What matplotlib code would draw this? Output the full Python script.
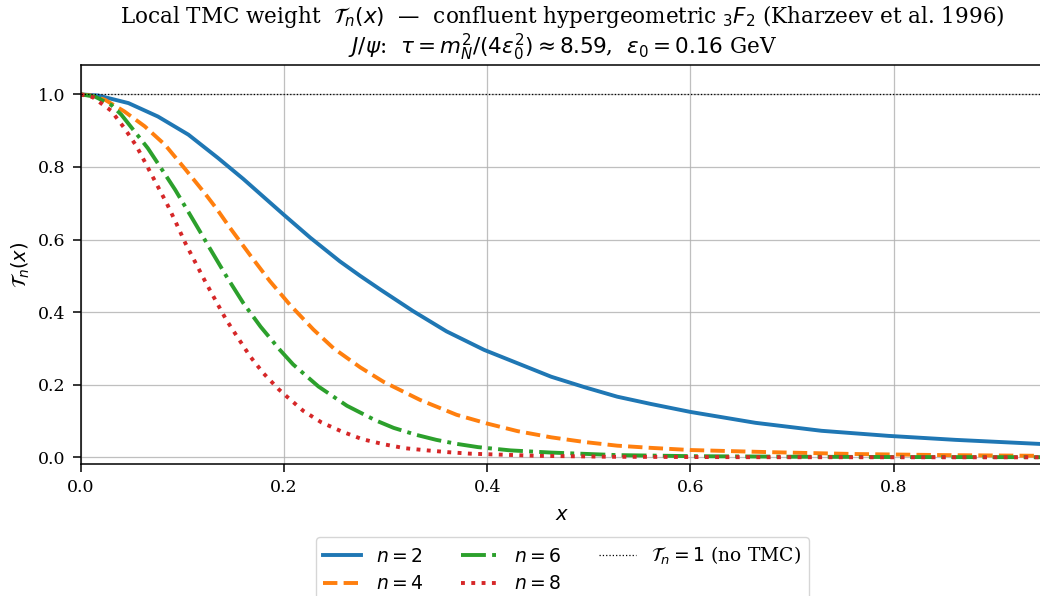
import matplotlib
matplotlib.use("Agg")
import matplotlib.pyplot as plt

plt.rcParams['font.family'] = ['DejaVu Serif']
plt.rcParams['mathtext.fontset'] = 'dejavusans'

# n = 2
x_n2 = [0.0, 0.017, 0.047, 0.076, 0.106, 0.135, 0.160, 0.181, 0.200, 0.226, 0.255, 0.275, 0.295,
        0.327, 0.360, 0.397, 0.430, 0.463, 0.496, 0.528, 0.561, 0.600, 0.664, 0.729, 0.795, 0.861,
        0.950]
y_n2 = [1.0, 0.997, 0.976, 0.939, 0.889, 0.825, 0.767, 0.715, 0.668, 0.605, 0.540, 0.500, 0.462,
        0.403, 0.347, 0.296, 0.259, 0.222, 0.193, 0.167, 0.147, 0.125, 0.095, 0.073, 0.059, 0.048,
        0.036]
# n = 4
x_n4 = [0.0, 0.010, 0.024, 0.043, 0.063, 0.083, 0.102, 0.122, 0.134, 0.147, 0.167, 0.186, 0.206,
        0.229, 0.249, 0.275, 0.298, 0.334, 0.370, 0.400, 0.430, 0.463, 0.496, 0.528, 0.561, 0.600,
        0.680, 0.762, 0.850, 0.950]
y_n4 = [1.0, 0.997, 0.985, 0.953, 0.912, 0.861, 0.797, 0.728, 0.684, 0.632, 0.556, 0.486, 0.420,
        0.352, 0.300, 0.248, 0.208, 0.158, 0.117, 0.093, 0.072, 0.055, 0.042, 0.032, 0.026, 0.020,
        0.014, 0.009, 0.006, 0.004]
# n = 6
x_n6 = [0.0, 0.014, 0.030, 0.040, 0.053, 0.066, 0.079, 0.093, 0.106, 0.117, 0.127, 0.144, 0.160,
        0.177, 0.196, 0.209, 0.234, 0.262, 0.290, 0.308, 0.330, 0.350, 0.370, 0.391, 0.423, 0.463,
        0.528, 0.604, 0.700, 0.800, 0.950]
y_n6 = [1.0, 0.994, 0.971, 0.944, 0.898, 0.852, 0.797, 0.737, 0.676, 0.624, 0.576, 0.496, 0.425,
        0.360, 0.296, 0.256, 0.195, 0.142, 0.102, 0.081, 0.062, 0.048, 0.037, 0.028, 0.019, 0.013,
        0.006, 0.003, 0.0015, 0.0007, 0.0003]
# n = 8
x_n8 = [0.0, 0.012, 0.030, 0.043, 0.055, 0.065, 0.075, 0.085, 0.094, 0.103, 0.113, 0.123, 0.133,
        0.143, 0.155, 0.167, 0.180, 0.195, 0.203, 0.219, 0.237, 0.257, 0.277, 0.298, 0.319, 0.341,
        0.362, 0.383, 0.405, 0.450, 0.520, 0.650, 0.800, 0.950]
y_n8 = [1.0, 0.992, 0.955, 0.907, 0.857, 0.804, 0.751, 0.698, 0.645, 0.590, 0.536, 0.482, 0.431,
        0.380, 0.328, 0.277, 0.231, 0.187, 0.167, 0.128, 0.096, 0.071, 0.050, 0.036, 0.025, 0.019,
        0.014, 0.010, 0.008, 0.004, 0.0015, 0.0003, 0.0, 0.0]

series = [
    (x_n2, y_n2, r'$n=2$', '#1f77b4', '-'),
    (x_n4, y_n4, r'$n=4$', '#ff7f0e', '--'),
    (x_n6, y_n6, r'$n=6$', '#2ca02c', '-.'),
    (x_n8, y_n8, r'$n=8$', '#d62728', ':'),
]

fig = plt.figure(figsize=(10.4, 5.96), dpi=100)
W, H = 1040, 596
ax = fig.add_axes([80.7 / W, (H - 464) / H, (1044 - 80.7) / W, (464 - 65) / H])

for xs, ys, lab, col, ls in series:
    ax.plot(xs, ys, color=col, ls=ls, lw=2.8, label=lab)
ax.axhline(1.0, color='black', ls=':', lw=0.9, label=r'$\mathcal{T}_n=1$ (no TMC)')

ax.set_xlim(0, 0.948)
ax.set_ylim(-0.0185, 1.081)
ax.set_xticks([0.0, 0.2, 0.4, 0.6, 0.8])
ax.set_yticks([0.0, 0.2, 0.4, 0.6, 0.8, 1.0])
ax.tick_params(labelsize=12.5, length=6, width=1.1, pad=5)
for sp in ax.spines.values():
    sp.set_linewidth(1.1)
ax.grid(True, color='#b0b0b0', lw=0.9, alpha=0.8)
ax.set_xlabel(r'$x$', fontsize=14, labelpad=7)
ax.set_ylabel(r'$\mathcal{T}_n(x)$', fontsize=14, labelpad=4)
ax.set_title("Local TMC weight  $\\mathcal{T}_n(x)$  —  confluent hypergeometric ${}_3F_2$ (Kharzeev et al. 1996)\n"
             "$J/\\psi$:  $\\tau=m_N^2/(4\\varepsilon_0^2)\\approx 8.59$,  $\\varepsilon_0=0.16$ GeV",
             fontsize=15.5, linespacing=1.05, pad=8)
ax.legend(loc='upper center', bbox_to_anchor=(0.5, -0.16), ncol=3, fontsize=13.5, frameon=True)

fig.savefig('out.png', dpi=100)
